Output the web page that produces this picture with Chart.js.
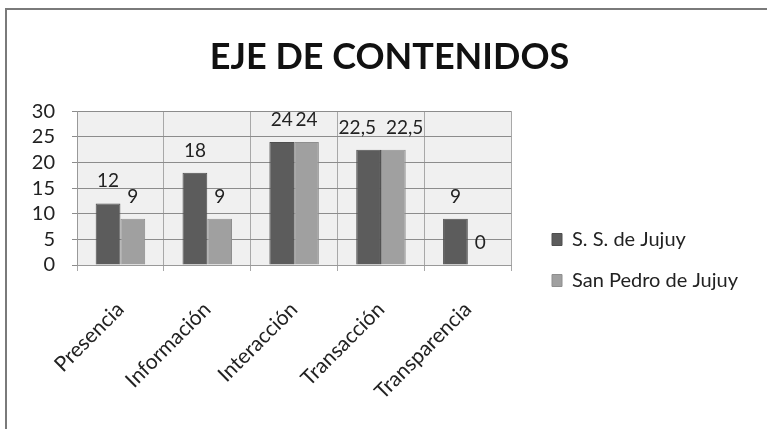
<!DOCTYPE html>
<html><head><meta charset="utf-8">
<script src="https://cdn.jsdelivr.net/npm/chart.js@4.4.0/dist/chart.umd.min.js"></script>
<style>
html,body{margin:0;padding:0;background:#fff;}
#wrap{position:relative;width:767px;height:429px;overflow:hidden;}
#frame{position:absolute;left:5px;top:8px;width:800px;height:460px;border-left:2px solid #7a7a7a;border-top:2px solid #7a7a7a;pointer-events:none;}
canvas{display:block;}
</style></head><body>
<div id="wrap"><canvas id="c" width="767" height="429"></canvas><div id="frame"></div></div>
<script>
const categories = ['Presencia','Información','Interacción','Transacción','Transparencia'];
const seriesNames = ['S. S. de Jujuy','San Pedro de Jujuy'];
const ssJujuy = [12, 18, 24, 22.5, 9];
const sanPedro = [9, 9, 24, 22.5, 0];
const yTicks = [0, 5, 10, 15, 20, 25, 30];
const titleText = 'EJE DE CONTENIDOS';

const FONT = 'Lato';
const fmt = v => String(v).replace('.', ',');

const plotBg = {
  id: 'plotBg',
  beforeDraw(chart) {
    const a = chart.chartArea, ctx = chart.ctx;
    ctx.save(); ctx.fillStyle = '#f0f0f0';
    ctx.fillRect(a.left, a.top, a.right - a.left, a.bottom - a.top);
    ctx.restore();
  }
};

const boxShift = {
  id: 'boxShift',
  afterLayout(chart) {
    const lg = chart.legend;
    const h = lg.height;
    lg.left = 531; lg.right = 767;
    lg.top = 260 - h / 2; lg.bottom = lg.top + h;
    const tb = chart.titleBlock;
    tb.left += 46; tb.right += 46;
  }
};

const valueLabels = {
  id: 'valueLabels',
  afterDatasetsDraw(chart) {
    const ctx = chart.ctx;
    ctx.save();
    ctx.font = '19px ' + FONT;
    ctx.fillStyle = '#222';
    ctx.textAlign = 'center';
    ctx.textBaseline = 'alphabetic';
    const metas = chart.data.datasets.map((d, i) => chart.getDatasetMeta(i));
    categories.forEach((c, j) => {
      const items = metas.map((m, i) => {
        const el = m.data[j];
        const t = fmt(chart.data.datasets[i].data[j]);
        return {x: el.x, y: el.y, t, w: ctx.measureText(t).width};
      });
      const a = items[0], b = items[1];
      const need = (a.w + b.w) / 2 + 2, d = b.x - a.x;
      if (d < need) { const s = (need - d) / 2 + 4; a.x -= s; b.x += s; }
      items.forEach(it => ctx.fillText(it.t, it.x, it.y - 16));
    });
    ctx.restore();
  }
};

new Chart(document.getElementById('c'), {
  type: 'bar',
  data: {
    labels: categories,
    datasets: [
      {label: seriesNames[0], data: ssJujuy, backgroundColor: '#5c5c5c', borderColor: '#4e4e4e', borderWidth: 1,
       categoryPercentage: 0.57, barPercentage: 1.0},
      {label: seriesNames[1], data: sanPedro, backgroundColor: '#a0a0a0', borderColor: '#8e8e8e', borderWidth: 1,
       categoryPercentage: 0.57, barPercentage: 1.0}
    ]
  },
  options: {
    responsive: false, animation: false, devicePixelRatio: 1,
    layout: {padding: {left: 8, right: 88, top: 0, bottom: 0}},
    plugins: {
      title: {display: true, text: titleText, color: '#111',
        font: {family: FONT, size: 36, weight: 'bold'}, padding: {top: 36, bottom: 32}},
      legend: {position: 'right', align: 'center',
        labels: {color: '#222', font: {family: FONT, size: 20}, boxWidth: 10, boxHeight: 12, padding: 21}},
      tooltip: {enabled: false}
    },
    scales: {
      x: {
        afterFit(s) { s.height = 164; },
        grid: {color: '#a8a8a8', offset: true, tickLength: 6, drawTicks: true},
        border: {color: '#999'},
        ticks: {color: '#222', font: {family: FONT, size: 21}, minRotation: 45, maxRotation: 45, padding: 26, autoSkip: false}
      },
      y: {
        min: yTicks[0], max: yTicks[yTicks.length - 1],
        afterFit(s) { s.width = 69; },
        grid: {color: '#8c8c8c', tickLength: 5},
        border: {color: '#999'},
        ticks: {color: '#222', font: {family: FONT, size: 20}, padding: 17, stepSize: yTicks[1] - yTicks[0], autoSkip: false}
      }
    }
  },
  plugins: [plotBg, boxShift, valueLabels]
});
</script>
</body></html>
